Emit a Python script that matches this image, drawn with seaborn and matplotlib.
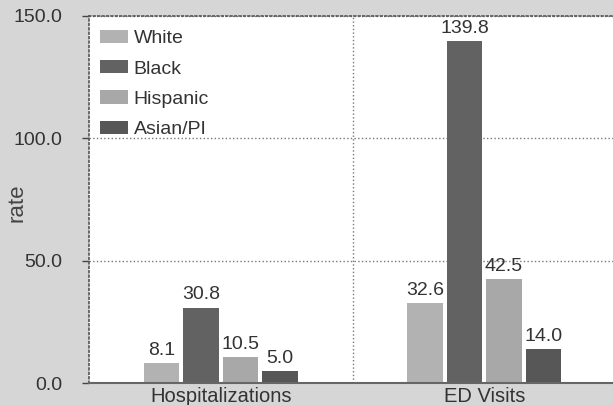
import matplotlib
matplotlib.use("Agg")
import matplotlib.pyplot as plt
from matplotlib.ticker import FixedLocator, FormatStrFormatter
import pandas as pd
import seaborn as sns

# Rates by race/ethnicity for each measure
categories = ["Hospitalizations", "ED Visits"]
races = ["White", "Black", "Hispanic", "Asian/PI"]
hospitalizations = [8.1, 30.8, 10.5, 5.0]
ed_visits = [32.6, 139.8, 42.5, 14.0]
y_ticks = [0.0, 50.0, 100.0, 150.0]

race_colors = ["#b2b2b2", "#626262", "#a8a8a8", "#575757"]

rows = []
for cat, vals in zip(categories, [hospitalizations, ed_visits]):
    for race, v in zip(races, vals):
        rows.append({"measure": cat, "race": race, "rate": v})
df = pd.DataFrame(rows)

sns.set_style("white")
plt.rcParams["font.family"] = ["Liberation Sans", "DejaVu Sans"]
plt.rcParams["font.size"] = 14

fig = plt.figure(figsize=(6.13, 4.05), dpi=100, facecolor="#d6d6d6")
ax = fig.add_axes([89 / 613, 22 / 405, 527 / 613, 367 / 405])
ax.set_facecolor("white")

sns.barplot(data=df, x="measure", y="rate", hue="race", order=categories,
            hue_order=races, palette=race_colors, width=0.6, gap=0.1,
            saturation=1, ax=ax, linewidth=0)

for cont in ax.containers:
    ax.bar_label(cont, fmt="%.1f", padding=3, color="#333333", fontsize=14)

ax.set_xlim(-0.5, 1.5)
ax.set_ylim(0, 150)
ax.yaxis.set_major_locator(FixedLocator(y_ticks))
ax.yaxis.set_major_formatter(FormatStrFormatter("%.1f"))
ax.tick_params(axis="y", length=5, width=1, pad=14.5, colors="#444444",
               labelcolor="#333333", labelsize=14, left=True)
ax.tick_params(axis="x", length=0, pad=3, labelcolor="#333333", labelsize=14.5)

# category separator and value gridlines
ax.xaxis.set_minor_locator(FixedLocator([0.5]))
ax.grid(axis="y", which="major", linestyle=":", color="#777777", linewidth=1)
ax.grid(axis="x", which="minor", linestyle=":", color="#777777", linewidth=1)
ax.grid(axis="x", which="major", visible=False)
ax.set_axisbelow(True)

ax.set_xlabel("")
ax.set_ylabel("rate", color="#444444", fontsize=16)
ax.yaxis.set_label_coords(-0.117, 0.49)

for side in ["top", "left"]:
    ax.spines[side].set_linestyle(":")
    ax.spines[side].set_color("#555555")
    ax.spines[side].set_linewidth(1.2)
ax.spines["bottom"].set_color("#666666")
ax.spines["bottom"].set_linewidth(1.5)
ax.spines["right"].set_visible(False)

handles, labels = ax.get_legend_handles_labels()
ax.legend(handles, labels, loc="upper left", bbox_to_anchor=(0.02, 0.962),
          frameon=False, borderpad=0, borderaxespad=0, handlelength=1.45,
          handleheight=0.67, handletextpad=0.3, labelspacing=0.66,
          fontsize=14, labelcolor="#333333")

fig.savefig("out.png", dpi=100, facecolor=fig.get_facecolor())
